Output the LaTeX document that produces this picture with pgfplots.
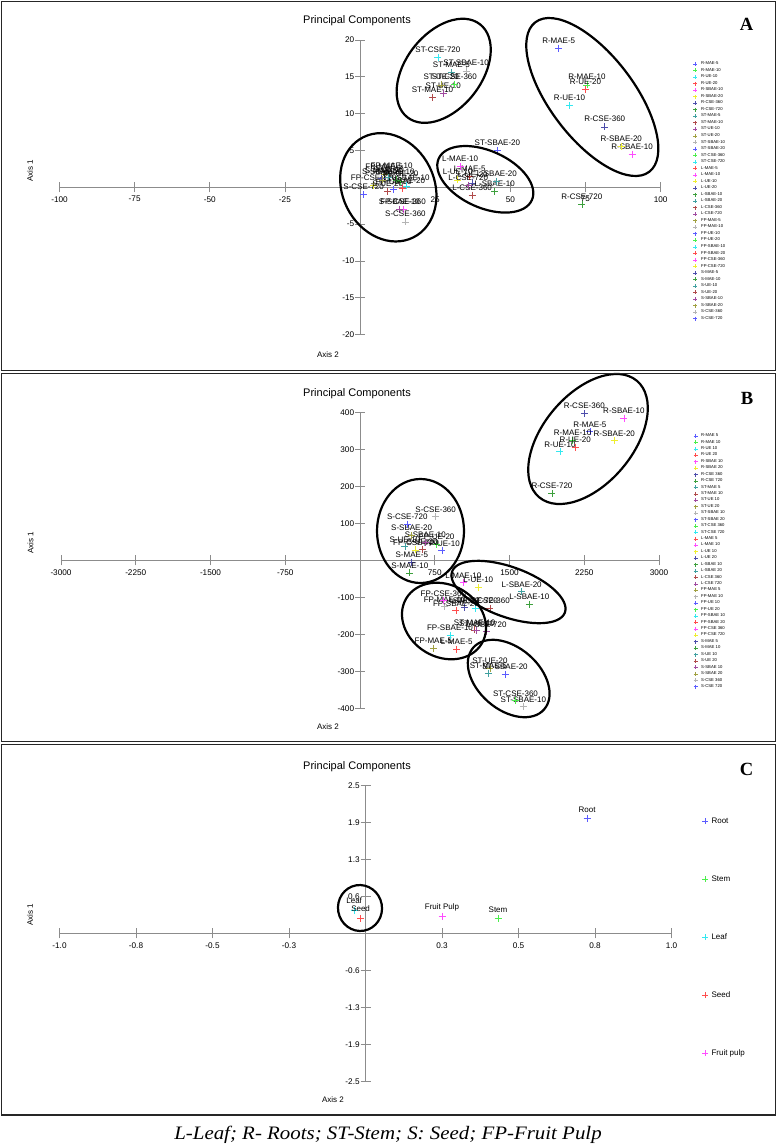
\documentclass[border=0pt]{standalone}
\usepackage{pgfplots}
\pgfplotsset{compat=1.18}
\usepackage{fontspec}
\usepackage{graphicx}
\setmainfont{Liberation Sans}
\newfontfamily\serifbf{Liberation Serif}[BoldFont={Liberation Serif Bold}]
\newfontfamily\serifit{Liberation Serif}

\definecolor{c1}{HTML}{5B5BFF}
\definecolor{c2}{HTML}{4CEE4C}
\definecolor{c3}{HTML}{33E8F0}
\definecolor{c4}{HTML}{FF4D4D}
\definecolor{c5}{HTML}{FF4DFF}
\definecolor{c6}{HTML}{EEEE30}
\definecolor{c7}{HTML}{4D4DAB}
\definecolor{c8}{HTML}{3DA03D}
\definecolor{c9}{HTML}{40A0A0}
\definecolor{c10}{HTML}{B04A4A}
\definecolor{c11}{HTML}{A04AA0}
\definecolor{c12}{HTML}{A0A040}
\definecolor{c13}{HTML}{B4B4B4}
\definecolor{axgray}{HTML}{8C8C8C}

\newcommand\pc[5]{\addplot[color=#1] coordinates {(#2,#3) [#4]}; \addlegendentry{#5}}

\pgfplotsset{
  pcabase/.style={
    scale only axis, anchor=south west,
    axis lines=middle,
    axis line style={-, draw=axgray, line width=0.8pt},
    every inner x axis line/.append style={-},
    every inner y axis line/.append style={-},
    tick style={draw=axgray, line width=0.8pt},
    major tick length=10pt, tick align=center,
    tick label style={font=\fontsize{8.2}{9}\selectfont, text=black},
    xticklabel style={anchor=north, inner sep=0pt, yshift=-3.8pt},
    yticklabel style={anchor=east, inner sep=0pt, xshift=-0.7pt},
    clip=false,
    nodes near coords, point meta=explicit symbolic,
    every axis plot/.append style={only marks, mark=+, mark size=3.5pt, line width=0.7pt},
    legend cell align=left,
  },
  lbl/.style={every node near coord/.append style={font=\fontsize{8}{9}\selectfont, text=black, anchor=base, inner sep=0pt, yshift=#1}},
  smalllegend/.style={
    legend image code/.code={\draw[##1, mark size=2pt, line width=0.5pt] plot coordinates {(0pt,0pt)};},
    legend style={draw=none, fill=none, inner sep=0pt, outer sep=0pt, anchor=north west,
      font=\fontsize{4.2}{5}\selectfont, nodes={inner sep=0.3pt}, column sep=3.4pt, row sep=#1},
  },
}

\begin{document}
\begin{tikzpicture}
\fill[white] (0pt,0pt) rectangle (777pt,-1145pt);

% ---------------- Panel A ----------------
\begin{axis}[pcabase, lbl=5pt, smalllegend=1.5pt,
  at={(59.5pt,-334.7pt)}, width=601.1pt, height=294.7pt,
  xmin=-100, xmax=100, ymin=-20, ymax=20,
  xtick={-100,-75,-50,-25,25,50,75,100}, xticklabels={-100,-75,-50,-25,25,50,75,100},
  ytick={-20,-15,-10,-5,5,10,15,20}, yticklabels={-20,-15,-10,-5,5,10,15,20},
  legend style={at={(1.0547,0.9272)}},
]
\pc{c1}{66.1}{18.9}{R-MAE-5}{R-MAE-5}
\pc{c2}{75.5}{13.9}{R-MAE-10}{R-MAE-10}
\pc{c3}{69.7}{11.1}{R-UE-10}{R-UE-10}
\pc{c4}{75.0}{13.3}{R-UE-20}{R-UE-20}
\pc{c5}{90.5}{4.5}{R-SBAE-10}{R-SBAE-10}
\pc{c6}{86.9}{5.5}{R-SBAE-20}{R-SBAE-20}
\pc{c7}{81.4}{8.2}{R-CSE-360}{R-CSE-360}
\pc{c8}{73.8}{-2.3}{R-CSE-720}{R-CSE-720}
\pc{c9}{30.4}{15.6}{ST-MAE-5}{ST-MAE-5}
\pc{c10}{24.1}{12.2}{ST-MAE-10}{ST-MAE-10}
\pc{c11}{27.7}{12.7}{ST-UE-10}{ST-UE-10}
\pc{c12}{27.0}{13.9}{ST-UE-20}{ST-UE-20}
\pc{c13}{35.3}{15.8}{ST-SBAE-10}{ST-SBAE-10}
\pc{c1}{45.7}{5.0}{ST-SBAE-20}{ST-SBAE-20}
\pc{c2}{31.4}{14.0}{ST-CSE-360}{ST-CSE-360}
\pc{c3}{25.9}{17.6}{ST-CSE-720}{ST-CSE-720}
\pc{c4}{36.5}{1.5}{L-MAE-5}{L-MAE-5}
\pc{c5}{33.3}{2.8}{L-MAE-10}{L-MAE-10}
\pc{c6}{32.5}{1.0}{L-UE-10}{L-UE-10}
\pc{c7}{37.5}{0.6}{L-UE-20}{L-UE-20}
\pc{c8}{44.8}{-0.5}{L-SBAE-10}{L-SBAE-10}
\pc{c9}{45.5}{0.8}{L-SBAE-20}{L-SBAE-20}
\pc{c10}{37.3}{-1.1}{L-CSE-360}{L-CSE-360}
\pc{c11}{36.0}{0.3}{L-CSE-720}{L-CSE-720}
\pc{c12}{8.0}{1.8}{FP-MAE-5}{FP-MAE-5}
\pc{c13}{10.5}{1.9}{FP-MAE-10}{FP-MAE-10}
\pc{c1}{11.2}{-0.3}{FP-UE-10}{FP-UE-10}
\pc{c2}{13.5}{0.8}{FP-UE-20}{FP-UE-20}
\pc{c3}{15.5}{0.2}{FP-SBAE-10}{FP-SBAE-10}
\pc{c4}{14.0}{-0.2}{FP-SBAE-20}{FP-SBAE-20}
\pc{c5}{14.3}{-3.0}{FP-CSE-360}{FP-CSE-360}
\pc{c6}{4.5}{0.3}{FP-CSE-720}{FP-CSE-720}
\pc{c7}{7.0}{1.2}{S-MAE-5}{S-MAE-5}
\pc{c8}{12.0}{1.0}{S-MAE-10}{S-MAE-10}
\pc{c9}{9.5}{1.4}{S-UE-10}{S-UE-10}
\pc{c10}{9.2}{-0.6}{S-UE-20}{S-UE-20}
\pc{c11}{13.1}{-3.0}{S-SBAE-10}{S-SBAE-10}
\pc{c12}{7.5}{1.0}{S-SBAE-20}{S-SBAE-20}
\pc{c13}{15.1}{-4.7}{S-CSE-360}{S-CSE-360}
\pc{c1}{1.2}{-1.0}{S-CSE-720}{S-CSE-720}
\end{axis}

% ---------------- Panel B ----------------
\begin{axis}[pcabase, lbl=4.5pt, smalllegend=1.4pt,
  at={(61pt,-708.3pt)}, width=598pt, height=296pt,
  xmin=-3000, xmax=3000, ymin=-400, ymax=400,
  xtick={-3000,-2250,-1500,-750,750,1500,2250,3000}, xticklabels={-3000,-2250,-1500,-750,750,1500,2250,3000},
  ytick={-400,-300,-200,-100,100,200,300,400}, yticklabels={-400,-300,-200,-100,100,200,300,400},
  legend style={at={(1.0577,0.9285)}},
]
\pc{c1}{2307}{348}{R-MAE-5}{R-MAE 5}
\pc{c2}{2133}{325}{R-MAE-10}{R-MAE 10}
\pc{c3}{2006}{294}{R-UE-10}{R-UE 10}
\pc{c4}{2160}{305}{R-UE-20}{R-UE 20}
\pc{c5}{2648}{384}{R-SBAE-10}{R-SBAE 10}
\pc{c6}{2551}{323}{R-SBAE-20}{R-SBAE 20}
\pc{c7}{2250}{397}{R-CSE-360}{R-CSE 360}
\pc{c8}{1926}{181}{R-CSE-720}{R-CSE 720}
\pc{c9}{1287}{-305}{ST-MAE-5}{ST-MAE 5}
\pc{c10}{1150}{-188}{ST-MAE-10}{ST-MAE 10}
\pc{c11}{1170}{-190}{ST-UE-10}{ST-UE 10}
\pc{c12}{1304}{-292}{ST-UE-20}{ST-UE 20}
\pc{c13}{1639}{-396}{ST-SBAE-10}{ST-SBAE 10}
\pc{c1}{1455}{-308}{ST-SBAE-20}{ST-SBAE 20}
\pc{c2}{1560}{-379}{ST-CSE-360}{ST-CSE 360}
\pc{c3}{1157}{-130}{ST-CSE-720}{ST-CSE 720}
\pc{c4}{970}{-240}{L-MAE-5}{L-MAE 5}
\pc{c5}{1037}{-60}{L-MAE-10}{L-MAE 10}
\pc{c6}{1187}{-73}{L-UE-10}{L-UE 10}
\pc{c7}{1050}{-128}{L-UE-20}{L-UE 20}
\pc{c8}{1699}{-119}{L-SBAE-10}{L-SBAE 10}
\pc{c9}{1622}{-85}{L-SBAE-20}{L-SBAE 20}
\pc{c10}{1304}{-130}{L-CSE-360}{L-CSE 360}
\pc{c11}{1271}{-193}{L-CSE-720}{L-CSE 720}
\pc{c12}{736}{-238}{FP-MAE-5}{FP-MAE 5}
\pc{c13}{850}{-125}{FP-MAE-10}{FP-MAE 10}
\pc{c1}{822}{26}{FP-UE-10}{FP-UE 10}
\pc{c2}{769}{44}{FP-UE-20}{FP-UE 20}
\pc{c3}{903}{-202}{FP-SBAE-10}{FP-SBAE 10}
\pc{c4}{963}{-136}{FP-SBAE-20}{FP-SBAE 20}
\pc{c5}{836}{-109}{FP-CSE-360}{FP-CSE 360}
\pc{c6}{560}{28}{FP-CSE-720}{FP-CSE 720}
\pc{c7}{520}{-5}{S-MAE-5}{S-MAE 5}
\pc{c8}{500}{-34}{S-MAE-10}{S-MAE 10}
\pc{c9}{450}{37}{S-UE-10}{S-UE 10}
\pc{c10}{625}{30}{S-UE-20}{S-UE 20}
\pc{c11}{655}{49}{S-SBAE-10}{S-SBAE 10}
\pc{c12}{518}{68}{S-SBAE-20}{S-SBAE 20}
\pc{c13}{759}{118}{S-CSE-360}{S-CSE 360}
\pc{c1}{475}{98}{S-CSE-720}{S-CSE 720}
\end{axis}

% ---------------- Panel C ----------------
\begin{axis}[pcabase, lbl=6.4pt,
  at={(59.5pt,-1081.3pt)}, width=612pt, height=296pt,
  xmin=-1, xmax=1, ymin=-2.5, ymax=2.5,
  xtick={-1,-0.75,-0.5,-0.25,0.25,0.5,0.75,1}, xticklabels={-1.0,-0.8,-0.5,-0.3,0.3,0.5,0.8,1.0},
  ytick={-2.5,-1.875,-1.25,-0.625,0.625,1.25,1.875,2.5}, yticklabels={-2.5,-1.9,-1.3,-0.6,0.6,1.3,1.9,2.5},
  legend image code/.code={\draw[#1, mark size=3pt, line width=0.6pt] plot coordinates {(0pt,0pt)};},
  legend style={at={(1.0506,0.8914)}, anchor=north west, draw=none, fill=none, inner sep=0pt, outer sep=0pt,
    font=\fontsize{8}{9}\selectfont, nodes={inner sep=0.3pt}, column sep=2.75pt, row sep=50.2pt},
]
\pc{c1}{0.724}{1.94}{Root}{Root}
\pc{c2}{0.433}{0.247}{Stem}{Stem}
\pc{c3}{-0.037}{0.39}{Leaf}{Leaf}
\pc{c4}{-0.016}{0.253}{Seed}{Seed}
\pc{c5}{0.25}{0.287}{Fruit Pulp}{Fruit pulp}
\end{axis}

% ---------------- ellipses (annotations) ----------------
\begin{scope}[line width=2.2pt, black]
% A
\draw[rotate around={52:(443.7pt,-70.8pt)}] (443.7pt,-70.8pt) ellipse (59pt and 38pt);
\draw[rotate around={-52.7:(592.3pt,-97pt)}] (592.3pt,-97pt) ellipse (94pt and 42pt);
\draw[rotate around={-63.5:(388.3pt,-187.3pt)}] (388.3pt,-187.3pt) ellipse (56pt and 46pt);
\draw[rotate around={-24:(485.3pt,-179.3pt)}] (485.3pt,-179.3pt) ellipse (51pt and 28.5pt);
% B
\draw[rotate around={50:(588pt,-439pt)}] (588pt,-439pt) ellipse (76pt and 45pt);
\draw (420.5pt,-531pt) ellipse (43.5pt and 52pt);
\draw[rotate around={-20:(508.5pt,-592pt)}] (508.5pt,-592pt) ellipse (60pt and 25pt);
\draw[rotate around={-31:(444pt,-621pt)}] (444pt,-621pt) ellipse (44pt and 36pt);
\draw[rotate around={-41:(508.7pt,-678.5pt)}] (508.7pt,-678.5pt) ellipse (47pt and 31pt);
% C
\draw[rotate around={100:(360pt,-908pt)}] (360pt,-908pt) ellipse (23pt and 22pt);
\end{scope}

% ---------------- texts ----------------
\begin{scope}[font=\fontsize{11}{12}\selectfont]
\node[anchor=base] at (357pt,-23.4pt) {Principal Components};
\node[anchor=base] at (357pt,-396.4pt) {Principal Components};
\node[anchor=base] at (357pt,-769.4pt) {Principal Components};
\end{scope}
\begin{scope}[font=\serifbf\bfseries\fontsize{18.6}{20}\selectfont]
\node[anchor=base] at (746.5pt,-30.7pt) {A};
\node[anchor=base] at (747pt,-404.3pt) {B};
\node[anchor=base] at (746.5pt,-775.7pt) {C};
\end{scope}
\begin{scope}[font=\fontsize{8}{9}\selectfont]
\node[rotate=90] at (30pt,-170.5pt) {Axis 1};
\node[rotate=90] at (30.5pt,-542.5pt) {Axis 1};
\node[rotate=90] at (30pt,-915pt) {Axis 1};
\node at (328pt,-354.3pt) {Axis 2};
\node at (328pt,-727pt) {Axis 2};
\node at (333pt,-1100pt) {Axis 2};
\end{scope}
\node[anchor=base, font=\serifit\itshape\fontsize{19}{21}\selectfont] at (388pt,-1139.3pt)
  {\scalebox{1.1}[1]{L-Leaf; R- Roots; ST-Stem; S: Seed; FP-Fruit Pulp}};

% ---------------- frames ----------------
\begin{scope}[line width=1.3pt, draw=black!85]
\draw (1.2pt,-1.2pt) rectangle (775.8pt,-370.3pt);
\draw (1.2pt,-373.7pt) rectangle (775.8pt,-741.3pt);
\draw (1.2pt,-744.7pt) rectangle (775.8pt,-1115pt);
\end{scope}

\pgfresetboundingbox
\useasboundingbox (0pt,0pt) rectangle (777pt,-1145pt);
\end{tikzpicture}
\end{document}
